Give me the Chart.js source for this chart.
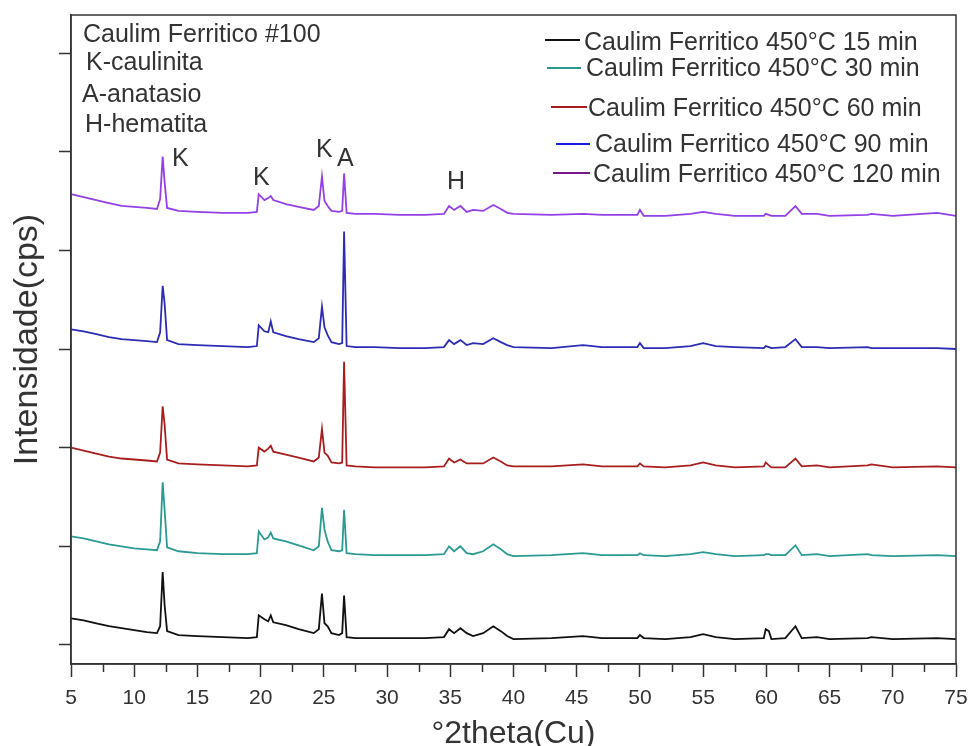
<!DOCTYPE html>
<html><head><meta charset="utf-8">
<script src="https://cdn.jsdelivr.net/npm/chart.js@4.4.1/dist/chart.umd.min.js"></script>
<style>html,body{margin:0;padding:0;background:#fff;}</style>
</head><body>
<canvas id="c" width="970" height="746"></canvas>
<script>
// ---- data ----
const twoTheta = [5,6,7,8,9,10,11,11.8,12.05,12.25,12.4,12.6,13.5,15,17,19,19.7,19.85,20.3,20.6,20.8,21.0,22,23,24.2,24.6,24.85,25.05,25.3,25.6,26.2,26.45,26.6,26.8,27.5,29,31,33,34.5,34.9,35.3,35.8,36.3,36.8,37.6,38.4,39.0,39.5,40,43,45.5,47,49.8,50.0,50.3,52,54,55,56,57.5,59.8,59.95,60.2,60.4,61.5,62.3,62.8,64,65,68,68.3,70,73.5,75];

const int15 = [210,190,160,130,110,90,70, 60,130,680,350,80, 40,30,20,10, 20,240,200,180,240,170, 140,100,60,100,460,160,130,60, 40,60,440,20, 10,10,10,10, 20,100,60,110,60,30,60,130,80,30,0, 10,30,10, 10,40,10, 0,20,50,20,0, 10,100,80,0, 10,130,10,20,0, 10,20,0,10,0];
const int30 = [200,180,150,120,100,80,70, 60,150,750,480,90, 50,30,20,20, 30,250,170,190,240,180, 150,110,60,100,490,270,150,60, 50,60,470,30, 20,10,10,10, 20,100,50,100,30,20,50,120,70,20,0, 10,30,10, 10,30,10, 0,20,40,20,0, 10,20,20,10, 10,110,10,20,0, 20,10,0,10,0];
const int60 = [200,170,140,110,90,80,70, 60,150,620,440,80, 40,30,20,10, 20,200,160,190,220,160, 130,100,60,100,390,150,120,50, 40,50,1070,20, 10,0,0,0, 10,90,50,80,40,40,40,100,60,20,10, 10,30,10, 10,40,10, 0,20,50,20,0, 10,50,20,0, 0,90,10,20,0, 20,30,0,10,0];
const int90 = [200,180,150,120,100,90,80, 70,170,640,470,90, 50,40,30,20, 30,240,180,170,280,170, 130,100,70,110,430,220,140,70, 50,60,1190,30, 20,20,10,10, 20,90,50,90,40,60,50,110,70,40,20, 10,40,20, 20,60,10, 10,30,60,30,20, 10,30,20,10, 20,100,20,20,10, 20,10,10,10,0];
const int120 = [220,190,160,130,100,90,80, 70,170,600,350,80, 50,40,30,30, 40,220,160,180,200,160, 120,90,60,100,400,150,100,50, 40,50,430,30, 20,20,10,10, 20,100,60,100,40,60,50,110,70,30,20, 10,20,10, 10,60,0, 0,20,40,20,0, 0,20,10,0, 0,100,20,20,0, 10,20,0,30,0];

const seriesNames = ['Caulim Ferritico 450°C 15 min','Caulim Ferritico 450°C 30 min','Caulim Ferritico 450°C 60 min','Caulim Ferritico 450°C 90 min','Caulim Ferritico 450°C 120 min'];
const seriesValues = [int15, int30, int60, int90, int120];
const offsets = [60, 900, 1800, 3000, 4350];
const seriesColors = ['#111111','#2a9a93','#a81e1e','#2c2cb4','#9440e8'];
const legendColors = ['#111111','#2a9a93','#a81e1e','#1a1ae0','#7a1a8a'];

const xTicks = [5,10,15,20,25,30,35,40,45,50,55,60,65,70,75];
const xMinorTicks = [7.5,12.5,17.5,22.5,27.5,32.5,37.5,42.5,47.5,52.5,57.5,62.5,67.5,72.5];
const yTicks = [0,1000,2000,3000,4000,5000,6000];

const notes = ['Caulim Ferritico #100','K-caulinita','A-anatasio','H-hematita'];
const peakLabels = ['K','K','K','A','H'];
const peakX = [12.99,19.40,24.38,26.04,34.74];
const peakY = [4853,4660,4944,4853,4619];

// ---- layout/style (not data) ----
const FONT = '"Liberation Sans", Arial, sans-serif';
const TXT = '#333333';
const notePos = [[83,42],[86,70],[82,102],[85,132]];
const legendRows = [ // lineX0, lineX1, lineY, textX, baseline
  [545,580,40,584,50],[547,581,68,586,76],[551,587,107,588,116],[556,590,144,595,152],[553,590,173,593,182]
];

const datasets = seriesValues.map((vals, s) => ({
  label: seriesNames[s],
  data: twoTheta.map((t, i) => ({x: t, y: vals[i] + offsets[s]})),
  borderColor: seriesColors[s],
  backgroundColor: seriesColors[s],
  borderWidth: 1.8,
  pointRadius: 0,
  tension: 0,
  fill: false
}));

const decor = {
  id: 'decor',
  afterDraw(chart) {
    const {ctx, chartArea: a, scales: {x, y}} = chart;
    ctx.save();
    ctx.strokeStyle = '#333';
    ctx.lineWidth = 1.5;
    ctx.strokeRect(a.left, a.top, a.right - a.left, a.bottom - a.top);
    ctx.beginPath();
    xMinorTicks.forEach(v => {
      const px = Math.round(x.getPixelForValue(v)) + 0.5;
      ctx.moveTo(px, a.bottom); ctx.lineTo(px, a.bottom + 8);
    });
    ctx.stroke();
    ctx.fillStyle = TXT;
    ctx.font = '25px ' + FONT;
    ctx.textBaseline = 'alphabetic';
    ctx.textAlign = 'left';
    notes.forEach((t, i) => ctx.fillText(t, notePos[i][0], notePos[i][1]));
    peakLabels.forEach((t, i) => ctx.fillText(t, x.getPixelForValue(peakX[i]), y.getPixelForValue(peakY[i])));
    seriesNames.forEach((t, i) => {
      const r = legendRows[i];
      ctx.strokeStyle = legendColors[i];
      ctx.lineWidth = 2;
      ctx.beginPath(); ctx.moveTo(r[0], r[2]); ctx.lineTo(r[1], r[2]); ctx.stroke();
      ctx.fillStyle = TXT;
      ctx.fillText(t, r[3], r[4]);
    });
    ctx.restore();
  }
};

new Chart(document.getElementById('c'), {
  type: 'line',
  data: {datasets},
  plugins: [decor],
  options: {
    responsive: false,
    animation: false,
    layout: {padding: {left: 0, right: 14, top: 15, bottom: 0}},
    plugins: {legend: {display: false}, tooltip: {enabled: false}},
    scales: {
      x: {
        type: 'linear', min: 5, max: 75,
        afterBuildTicks: sc => { sc.ticks = xTicks.map(v => ({value: v})); },
        afterFit: sc => { sc.paddingRight = 0; sc.paddingLeft = 0; },
        grid: {drawOnChartArea: false, drawTicks: true, tickLength: 13, tickColor: '#333', tickWidth: 1.5},
        border: {display: true, color: '#333', width: 1.5},
        ticks: {color: TXT, font: {family: FONT, size: 21}, padding: 9, maxRotation: 0, autoSkip: false},
        title: {display: true, text: '°2theta(Cu)', color: TXT, font: {family: FONT, size: 32, lineHeight: 0.9}, padding: {top: 0, bottom: -3}}
      },
      y: {
        type: 'linear', min: -193, max: 6386,
        afterBuildTicks: sc => { sc.ticks = yTicks.map(v => ({value: v})); },
        grid: {drawOnChartArea: false, drawTicks: true, tickLength: 12, tickColor: '#333', tickWidth: 1.5},
        border: {display: true, color: '#333', width: 1.5},
        ticks: {display: false},
        title: {display: true, text: 'Intensidade(cps)', color: TXT, font: {family: FONT, size: 34, lineHeight: 1}, padding: {top: 11, bottom: 14}}
      }
    }
  }
});
</script>
</body></html>
